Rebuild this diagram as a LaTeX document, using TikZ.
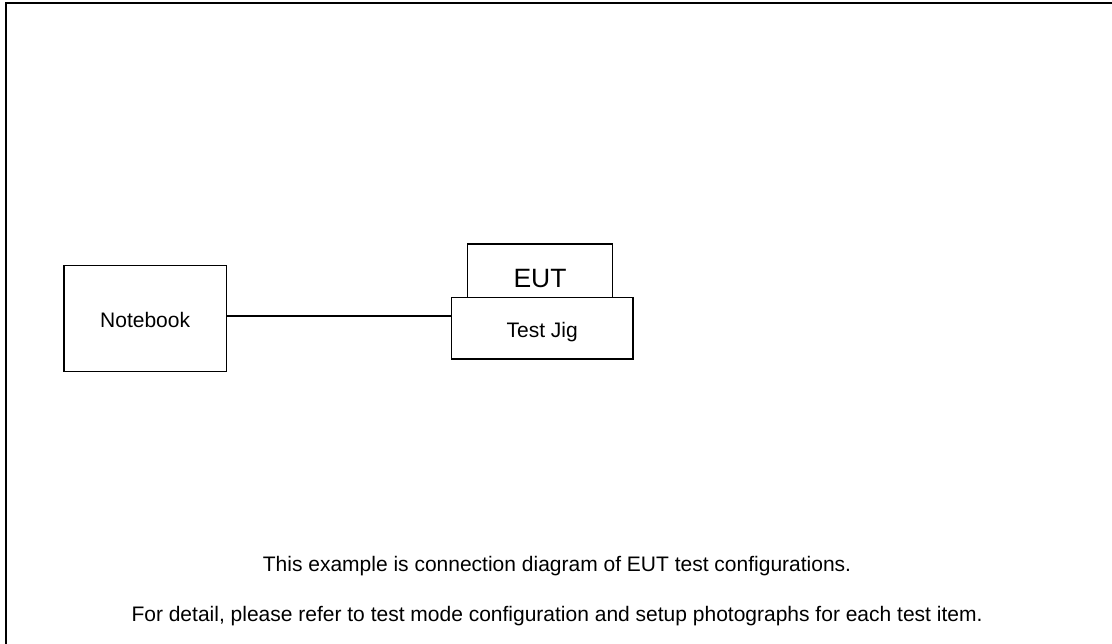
\documentclass[tikz,border=0pt]{standalone}
\usepackage{fontspec}
\setmainfont{Liberation Sans}
\begin{document}
\begin{tikzpicture}[x=1pt,y=-1pt,
  box/.style={draw=black,line width=1.1pt,fill=white,inner sep=0pt,outer sep=0pt},
  lbl/.style={inner sep=0pt,font=\fontsize{21}{25}\selectfont},
  bigl/.style={inner sep=0pt,font=\fontsize{26.5}{30}\selectfont}]
\useasboundingbox (0,0) rectangle (1112,644);
% outer frame (extends past right and bottom edges)
\draw[line width=2.4pt] (6.2,660) -- (6.2,3.2) -- (1130,3.2);
% boxes
\node[box,minimum width=162.3pt,minimum height=106pt] (nb) at (145.15,318.7) {};
\node[box,minimum width=145.4pt,minimum height=66pt] (eut) at (540,277) {};
\node[box,minimum width=181.7pt,minimum height=61.3pt] (tj) at (542.15,328.35) {};
% connector
\draw[line width=1.1pt] ([yshift=2.7pt]nb.east) -- ([yshift=12.35pt]tj.west);
% labels
\node[lbl] (nbt) at ([yshift=-0.8pt]nb.center) {Notebook};
\node[bigl] (eutt) at ([yshift=-2pt]eut.center) {EUT};
\node[lbl] (tjt) at ([yshift=-3.6pt]tj.center) {Test Jig};
\node[lbl,anchor=base] (t1) at (557,571.7) {This example is connection diagram of EUT test configurations.};
\node[lbl,anchor=base] (t2) at (557,621) {For detail, please refer to test mode configuration and setup photographs for each test item.};
\end{tikzpicture}
\end{document}
